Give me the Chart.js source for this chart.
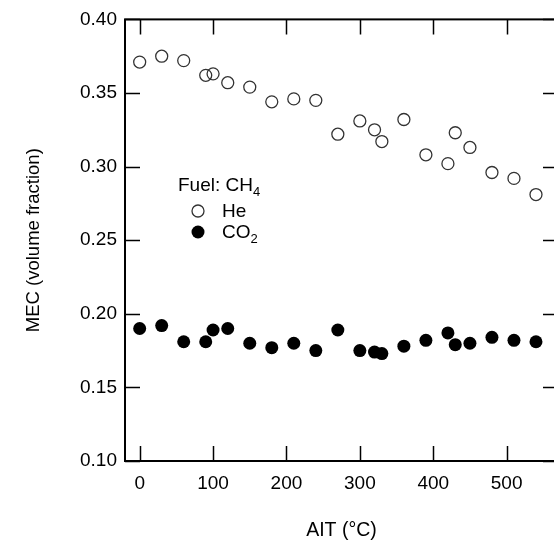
<!DOCTYPE html>
<html>
<head>
<meta charset="utf-8">
<script src="https://cdn.jsdelivr.net/npm/chart.js@4.4.1/dist/chart.umd.min.js"></script>
<style>
  html, body { margin: 0; padding: 0; overflow: hidden; background: #fff; }
  #wrap { width: 554px; height: 544px; overflow: hidden; }
</style>
</head>
<body>
<div id="wrap"><canvas id="mecChart" width="570" height="544"></canvas></div>
<script>
// AIT (deg C) for each measurement, same for both diluents
const ait = [0, 30, 60, 90, 100, 120, 150, 180, 210, 240, 270, 300, 320, 330, 360, 390, 420, 430, 450, 480, 510, 540];
// MEC with helium dilution (open circles)
const mecHe = [0.371, 0.375, 0.372, 0.362, 0.363, 0.357, 0.354, 0.344, 0.346, 0.345, 0.322, 0.331, 0.325, 0.317, 0.332, 0.308, 0.302, 0.323, 0.313, 0.296, 0.292, 0.281];
// MEC with CO2 dilution (filled circles)
const mecCO2 = [0.190, 0.192, 0.181, 0.181, 0.189, 0.190, 0.180, 0.177, 0.180, 0.175, 0.189, 0.175, 0.174, 0.173, 0.178, 0.182, 0.187, 0.179, 0.180, 0.184, 0.182, 0.181];

const xTicks = [0, 100, 200, 300, 400, 500];
const yTicks = [0.10, 0.15, 0.20, 0.25, 0.30, 0.35, 0.40];

const FONT = "'Liberation Sans', Arial, sans-serif";

function toPoints(xs, ys) {
  return xs.map((x, i) => ({ x: x, y: ys[i] }));
}

// draws the frame with inward ticks on all four sides
const frameTicks = {
  id: "frameTicks",
  afterDraw(chart) {
    const { ctx, chartArea: a, scales } = chart;
    const len = 15;
    ctx.save();
    ctx.strokeStyle = "#000";
    ctx.lineWidth = 2;
    ctx.strokeRect(a.left, a.top, a.right - a.left, a.bottom - a.top);
    ctx.lineWidth = 1.5;
    ctx.beginPath();
    xTicks.forEach((v) => {
      const px = Math.round(scales.x.getPixelForValue(v)) + 0.5;
      ctx.moveTo(px, a.bottom);
      ctx.lineTo(px, a.bottom - len);
      ctx.moveTo(px, a.top);
      ctx.lineTo(px, a.top + len);
    });
    yTicks.forEach((v) => {
      const py = Math.round(scales.y.getPixelForValue(v)) + 0.5;
      ctx.moveTo(a.left, py);
      ctx.lineTo(a.left + len, py);
      ctx.moveTo(a.right, py);
      ctx.lineTo(a.right - len, py);
    });
    ctx.stroke();
    ctx.restore();
  },
};

// legend block: "Fuel: CH4", He, CO2
const fuelLegend = {
  id: "fuelLegend",
  afterDraw(chart) {
    const ctx = chart.ctx;
    ctx.save();
    ctx.fillStyle = "#000";
    ctx.textBaseline = "alphabetic";
    ctx.font = "19px " + FONT;
    const head = "Fuel: CH";
    ctx.fillText(head, 178, 191);
    const w = ctx.measureText(head).width;
    ctx.font = "13px " + FONT;
    ctx.fillText("4", 178 + w, 196);

    // He
    ctx.beginPath();
    ctx.arc(198, 211, 6, 0, Math.PI * 2);
    ctx.strokeStyle = "#333";
    ctx.lineWidth = 1.3;
    ctx.stroke();
    ctx.font = "19px " + FONT;
    ctx.fillText("He", 222, 217);

    // CO2
    ctx.beginPath();
    ctx.arc(198, 232, 6.5, 0, Math.PI * 2);
    ctx.fill();
    ctx.fillText("CO", 222, 238);
    const w2 = ctx.measureText("CO").width;
    ctx.font = "13px " + FONT;
    ctx.fillText("2", 222 + w2, 243);
    ctx.restore();
  },
};

document.addEventListener("DOMContentLoaded", function () {
  const ctx = document.getElementById("mecChart").getContext("2d");
  new Chart(ctx, {
    type: "scatter",
    data: {
      datasets: [
        {
          label: "He",
          data: toPoints(ait, mecHe),
          pointRadius: 6,
          pointHoverRadius: 6,
          pointBorderWidth: 1.3,
          borderColor: "#333",
          backgroundColor: "rgba(0,0,0,0)",
        },
        {
          label: "CO2",
          data: toPoints(ait, mecCO2),
          pointRadius: 6.5,
          pointHoverRadius: 6.5,
          pointBorderWidth: 0,
          borderColor: "#000",
          backgroundColor: "#000",
        },
      ],
    },
    options: {
      responsive: false,
      animation: false,
      events: [],
      layout: {
        padding: { left: 0, top: 14, right: 12, bottom: 0 },
      },
      plugins: {
        legend: { display: false },
        tooltip: { enabled: false },
        title: { display: false },
      },
      scales: {
        x: {
          type: "linear",
          min: -20,
          max: 570,
          grid: { display: false, drawTicks: false },
          border: { display: false },
          afterBuildTicks(scale) {
            scale.ticks = xTicks.map((v) => ({ value: v }));
          },
          ticks: {
            padding: 11,
            color: "#000",
            font: { family: FONT, size: 19 },
            maxRotation: 0,
            autoSkip: false,
          },
          title: {
            display: true,
            text: "AIT (°C)",
            color: "#000",
            font: { family: FONT, size: 19.5 },
            padding: { top: 0, bottom: 2 },
          },
          afterFit(scale) {
            scale.height = 83;
          },
        },
        y: {
          type: "linear",
          min: 0.1,
          max: 0.4,
          grid: { display: false, drawTicks: false },
          border: { display: false },
          afterBuildTicks(scale) {
            scale.ticks = yTicks.map((v) => ({ value: v }));
          },
          ticks: {
            padding: 8,
            color: "#000",
            font: { family: FONT, size: 19 },
            autoSkip: false,
            callback: (v) => Number(v).toFixed(2),
          },
          title: {
            display: true,
            text: "MEC (volume fraction)",
            color: "#000",
            font: { family: FONT, size: 18.5 },
            padding: { top: 23, bottom: 0 },
          },
          afterFit(scale) {
            scale.width = 125;
          },
        },
      },
    },
    plugins: [frameTicks, fuelLegend],
  });
});
</script>
</body>
</html>
